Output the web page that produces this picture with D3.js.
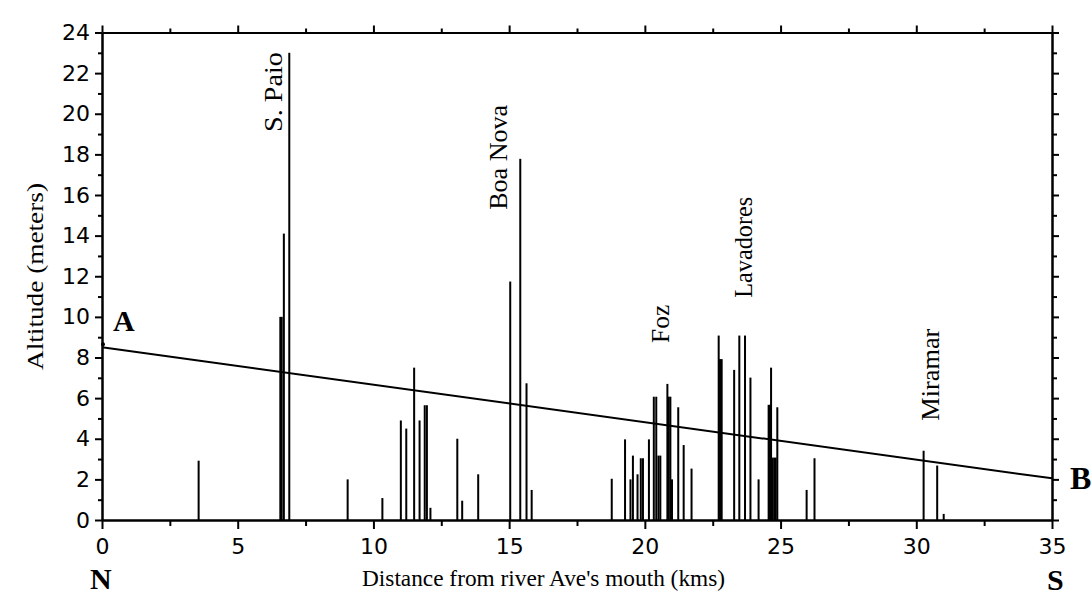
<!DOCTYPE html>
<html>
  <head>
    <meta charset="utf-8" />
    <title>Altitude profile N-S</title>
    <script src="https://d3js.org/d3.v7.min.js"></script>
    <style>
      body { margin: 0; background: #fff; }
      .axis path, .axis line { stroke: #000; stroke-width: 2; }
      .axis text { font-family: "DejaVu Sans", sans-serif; font-size: 22px; fill: #000; }
      .title { font-family: "Liberation Serif", serif; fill: #000; }
      .bar { fill: #000; }
    </style>
  </head>
  <body>
    <svg id="chart" width="1092" height="597"></svg>
    <script>
      // Distance along coast (km) and altitude (m) of each measured point
      const distances = [
        3.56,
        6.57, 6.62, 6.70, 6.90,
        9.05, 10.33, 11.01, 11.21, 11.50, 11.70, 11.89, 11.97, 12.10,
        13.09, 13.27, 13.86,
        15.04, 15.41, 15.64, 15.83,
        18.78, 19.27, 19.47, 19.56, 19.73, 19.85, 19.93, 20.15,
        20.33, 20.42, 20.50, 20.57, 20.83, 20.88, 20.94, 21.00,
        21.23, 21.43, 21.72,
        22.72, 22.77, 22.83, 23.29, 23.48, 23.69, 23.89, 24.19,
        24.56, 24.61, 24.65, 24.71, 24.77, 24.82, 24.88,
        25.96, 26.25,
        30.27, 30.77, 31.01
      ];
      const altitudes = [
        2.92,
        10.0, 10.0, 14.1, 23.0,
        2.0, 1.08, 4.9, 4.5, 7.5, 4.9, 5.65, 5.65, 0.6,
        4.0, 0.95, 2.25,
        11.74, 17.78, 6.73, 1.48,
        2.03, 3.97, 2.0, 3.17, 2.25, 3.04, 3.04, 3.97,
        6.07, 6.07, 3.17, 3.17, 6.7, 6.07, 6.07, 2.0,
        5.55, 3.69, 2.53,
        9.08, 7.92, 7.92, 7.39, 9.08, 9.08, 7.01, 2.0,
        5.67, 5.67, 7.5, 3.07, 3.07, 3.07, 5.55,
        1.48, 3.04,
        3.41, 2.68, 0.3
      ];

      // Line A-B
      const lineKm = [0, 35];
      const lineAlt = [8.5, 2.05];

      // Place names, with km of the label and altitude where the label starts
      const placeNames = ["S. Paio", "Boa Nova", "Foz", "Lavadores", "Miramar"];
      const placeKm = [6.64, 14.91, 20.9, 23.95, 30.82];
      const placeAlt = [19.1, 15.27, 8.72, 10.94, 4.89];
      const placeLen = [80, 105, 38, 101, 92];

      const xTicks = [0, 5, 10, 15, 20, 25, 30, 35];
      const yTicks = [0, 2, 4, 6, 8, 10, 12, 14, 16, 18, 20, 22, 24];

      const margin = { top: 32.5, right: 40, bottom: 77, left: 102 };
      const width = 1092, height = 597;

      const svg = d3.select('#chart');

      const x = d3.scaleLinear().domain([0, 35]).range([margin.left, width - margin.right]);
      const y = d3.scaleLinear().domain([0, 24]).range([height - margin.bottom, margin.top]);

      const minorX = d3.range(2.5, 35, 5);
      const minorY = d3.range(1, 24, 2);

      // bottom axis
      svg.append('g').attr('class', 'axis')
         .attr('transform', `translate(0,${y(0)})`)
         .call(d3.axisBottom(x).tickValues(xTicks).tickSize(9).tickPadding(9).tickSizeOuter(0));
      svg.append('g').attr('class', 'axis')
         .attr('transform', `translate(0,${y(0)})`)
         .call(d3.axisBottom(x).tickValues(minorX).tickSize(6).tickFormat('').tickSizeOuter(0));

      // top axis
      svg.append('g').attr('class', 'axis')
         .attr('transform', `translate(0,${y(24)})`)
         .call(d3.axisTop(x).tickValues(xTicks).tickSize(7).tickFormat('').tickSizeOuter(0));
      svg.append('g').attr('class', 'axis')
         .attr('transform', `translate(0,${y(24)})`)
         .call(d3.axisTop(x).tickValues(minorX).tickSize(4).tickFormat('').tickSizeOuter(0));

      // left axis
      svg.append('g').attr('class', 'axis')
         .attr('transform', `translate(${x(0)},0)`)
         .call(d3.axisLeft(y).tickValues(yTicks).tickSize(7).tickPadding(5).tickSizeOuter(0));
      svg.append('g').attr('class', 'axis')
         .attr('transform', `translate(${x(0)},0)`)
         .call(d3.axisLeft(y).tickValues(minorY).tickSize(4).tickFormat('').tickSizeOuter(0));

      // right axis
      svg.append('g').attr('class', 'axis')
         .attr('transform', `translate(${x(35)},0)`)
         .call(d3.axisRight(y).tickValues(yTicks).tickSize(7).tickFormat('').tickSizeOuter(0));
      svg.append('g').attr('class', 'axis')
         .attr('transform', `translate(${x(35)},0)`)
         .call(d3.axisRight(y).tickValues(minorY).tickSize(5).tickFormat('').tickSizeOuter(0));

      // bars
      svg.selectAll('.bar')
         .data(distances.map((d, i) => ({ km: d, alt: altitudes[i] })))
         .enter().append('rect')
           .attr('class', 'bar')
           .attr('x', d => x(d.km) - 1)
           .attr('y', d => y(d.alt))
           .attr('width', 2)
           .attr('height', d => y(0) - y(d.alt));

      // A-B line
      const line = d3.line().x(d => x(d[0])).y(d => y(d[1]));
      svg.append('path')
         .datum(lineKm.map((k, i) => [k, lineAlt[i]]))
         .attr('d', line)
         .attr('fill', 'none')
         .attr('stroke', '#000')
         .attr('stroke-width', 2);
      svg.append('circle')
         .attr('cx', x(0) + 1).attr('cy', y(lineAlt[0] + 0.15)).attr('r', 2).attr('fill', '#000');

      // place labels
      placeNames.forEach((name, i) => {
        const px = x(placeKm[i]), py = y(placeAlt[i]);
        svg.append('text')
           .attr('class', 'title')
           .attr('transform', `translate(${px},${py}) rotate(-90)`)
           .attr('font-size', 25)
           .attr('textLength', placeLen[i])
           .attr('lengthAdjust', 'spacingAndGlyphs')
           .text(name);
      });

      // axis titles
      svg.append('text')
         .attr('class', 'title')
         .attr('x', 362).attr('y', 586)
         .attr('font-size', 23)
         .attr('textLength', 363)
         .attr('lengthAdjust', 'spacingAndGlyphs')
         .text("Distance from river Ave's mouth (kms)");

      svg.append('text')
         .attr('class', 'title')
         .attr('transform', 'translate(43,370) rotate(-90)')
         .attr('font-size', 23)
         .attr('textLength', 187)
         .attr('lengthAdjust', 'spacingAndGlyphs')
         .text('Altitude (meters)');

      // corner letters
      const corner = [
        { t: 'A', x: 113, y: 331, s: 30 },
        { t: 'B', x: 1070, y: 489, s: 32 },
        { t: 'N', x: 90, y: 589, s: 30 },
        { t: 'S', x: 1047, y: 590, s: 30 }
      ];
      svg.selectAll('.corner')
         .data(corner)
         .enter().append('text')
           .attr('class', 'title corner')
           .attr('x', d => d.x).attr('y', d => d.y)
           .attr('font-size', d => d.s)
           .attr('font-weight', 'bold')
           .text(d => d.t);
    </script>
  </body>
</html>
